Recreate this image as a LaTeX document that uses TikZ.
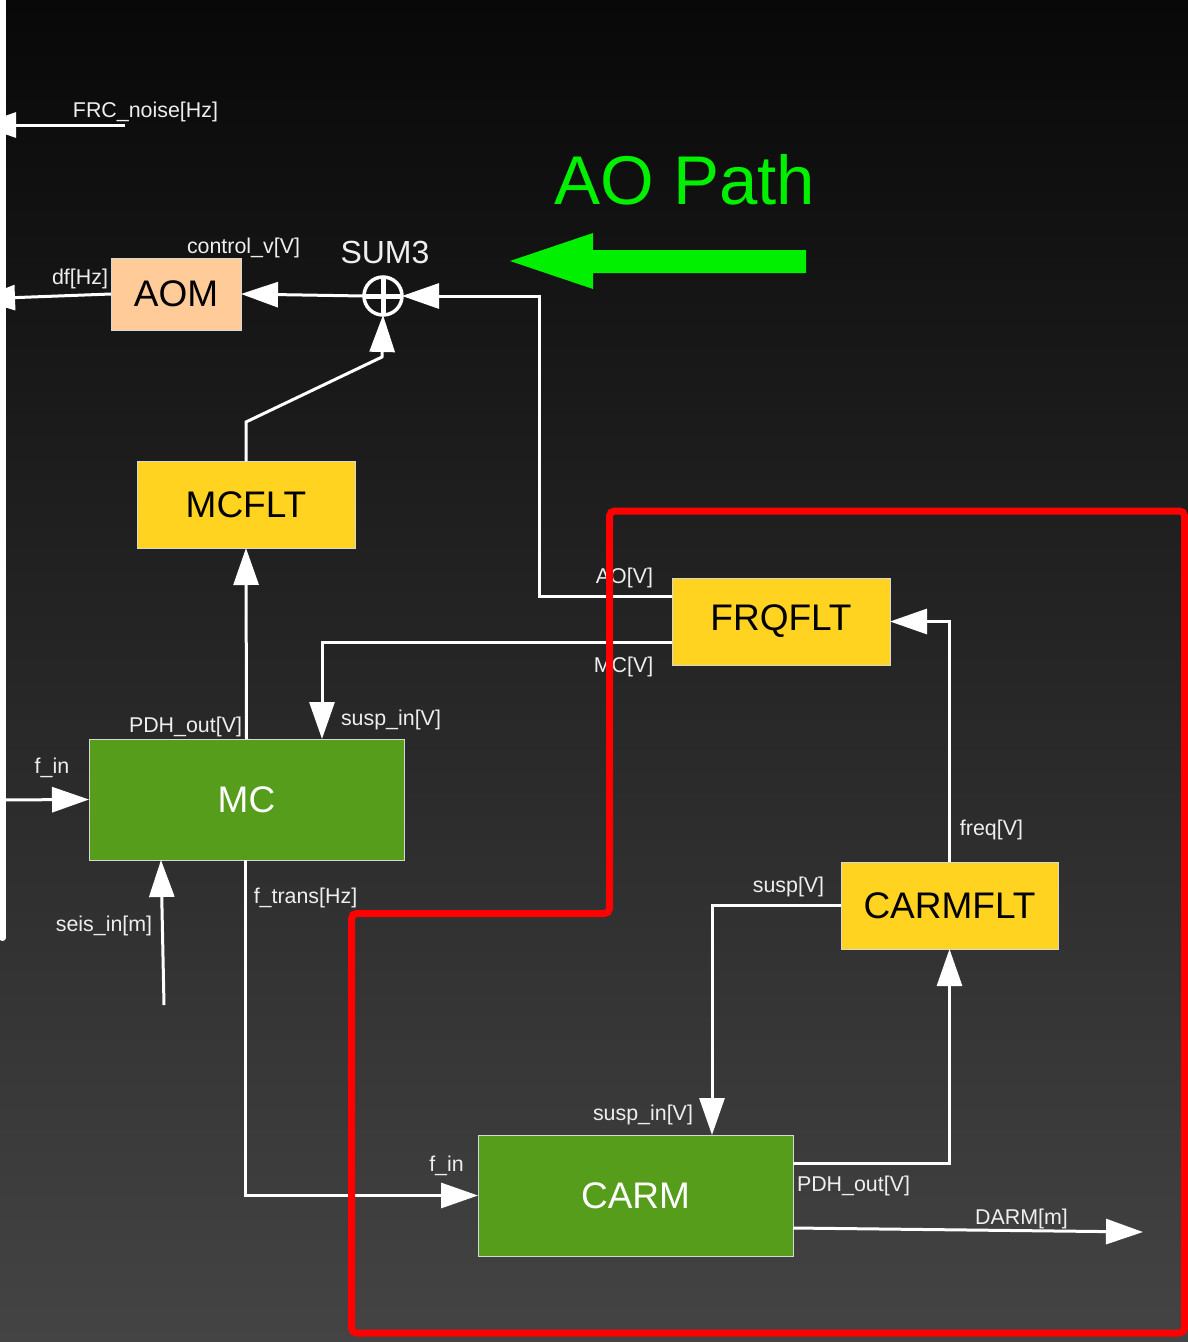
\documentclass[tikz,border=0pt]{standalone}
\usepackage{fontspec}
\setmainfont{Liberation Sans}
\usetikzlibrary{arrows.meta,calc}
\definecolor{bgtop}{RGB}{8,8,8}
\definecolor{bgbot}{RGB}{68,68,68}
\definecolor{peach}{HTML}{FFCC99}
\definecolor{filtyellow}{HTML}{FFD320}
\definecolor{plantgreen}{HTML}{579D1C}
\definecolor{pathgreen}{RGB}{0,240,0}
\definecolor{boxedge}{RGB}{215,215,215}
\definecolor{labelgray}{RGB}{238,238,238}
\begin{document}
\begin{tikzpicture}[x=1pt,y=-1pt,
  blk/.style={draw=boxedge, line width=1pt, inner sep=0pt, outer sep=0pt,
    font=\fontsize{37}{40}\selectfont},
  filt/.style={blk, fill=filtyellow, text=black, minimum width=218pt, minimum height=87pt},
  plant/.style={blk, fill=plantgreen, text=white, minimum width=315pt, minimum height=121pt},
  lbl/.style={text=labelgray, font=\fontsize{21.4}{24}\selectfont, inner sep=0pt, anchor=base},
  wire/.style={draw=white, line width=3pt},
  sig/.style={wire, -{Triangle[length=37pt,width=25pt]}},
]
% canvas with vertical gradient
\useasboundingbox (0,0) rectangle (1188,1342);
\shade[top color=bgtop, bottom color=bgbot] (0,0) rectangle (1188,1342);
\clip (0,0) rectangle (1188,1342);

% left bus bar
\draw[white, line width=6pt, line cap=round] (2.5,-10) -- (2.5,938);

% blocks
\node[blk, fill=peach, text=black, minimum width=130pt, minimum height=72pt] (AOM) at (176,294) {AOM};
\node[filt] (MCFLT) at (246,504.5) {MCFLT};
\node[filt] (FRQFLT) at (781,621.5) {FRQFLT};
\node[filt, minimum width=217pt] (CARMFLT) at (949.5,905.5) {CARMFLT};
\node[plant] (MC) at (246.5,799.5) {MC};
\node[plant] (CARM) at (635.5,1195.5) {CARM};

% summing junction
\node[circle, draw=white, line width=3.5pt, minimum size=38pt, inner sep=0pt, outer sep=0pt] (sum) at (383,296) {};
\draw[white, line width=5pt] ($(sum.west)+(2,0)$) -- ($(sum.east)+(-2,0)$);
\draw[white, line width=5pt] ($(sum.north)+(0,2)$) -- ($(sum.south)+(0,-2)$);
\node[text=labelgray, font=\fontsize{32}{34}\selectfont, inner sep=0pt, anchor=base] (sumlbl) at (385,263) {SUM3};

% free ends
\coordinate (frcS) at (125,125);
\coordinate (frcE) at (-21,125);
\coordinate (dfE) at (-22,299);
\coordinate (aoBend) at (539,296);
\coordinate (mcBendA) at (246,422);
\coordinate (mcBendB) at (382,357);
\coordinate (finMC) at (-10,800);
\coordinate (seisS) at (164,1005);
\coordinate (darmE) at (1143,1232);

% connectors
\draw[sig] (frcS) -- (frcE);
\draw[sig] (AOM.west) -- (dfE);
\draw[sig] (sum.west) -- (AOM.east);
\draw[sig] ($(FRQFLT.west)+(0,-25.5)$) -| (aoBend) -- (sum.east);
\draw[sig] (MCFLT.north) -- (mcBendA) -- (mcBendB) -- (sum.south);
\draw[sig] (MC.north) -- (MCFLT.south);
\draw[sig] ($(FRQFLT.west)+(0,20.5)$) -| ($(MC.north)+(75.5,0)$);
\draw[sig] (finMC) -- (MC.west);
\draw[sig] (seisS) -- ($(MC.south)+(-85.5,0)$);
\draw[sig] ($(MC.south)+(-1.5,0)$) |- (CARM.west);
\draw[sig] (CARMFLT.west) -| ($(CARM.north)+(76.5,0)$);
\draw[sig] ($(CARM.east)+(0,-32.5)$) -| (CARMFLT.south);
\draw[sig] (CARMFLT.north) |- (FRQFLT.east);
\draw[sig] ($(CARM.east)+(0,32.5)$) -- (darmE);

% port labels
\node[lbl] (lfrc) at (145.5,117) {FRC\_noise[Hz]};
\node[lbl] (lctl) at (243.5,253) {control\_v[V]};
\node[lbl] (ldf) at (80,284) {df[Hz]};
\node[lbl] (lao) at (624.5,583) {AO[V]};
\node[lbl] (lmcv) at (623.5,672) {MC[V]};
\node[lbl] (lsuspmc) at (391,725) {susp\_in[V]};
\node[lbl] (lpdhmc) at (185.5,732) {PDH\_out[V]};
\node[lbl] (lfinmc) at (52,773) {f\_in};
\node[lbl] (lseis) at (104,931) {seis\_in[m]};
\node[lbl] (lftrans) at (305.5,903) {f\_trans[Hz]};
\node[lbl] (lfreq) at (991.5,835) {freq[V]};
\node[lbl] (lsusp) at (788.5,892) {susp[V]};
\node[lbl] (lsuspcarm) at (643,1120) {susp\_in[V]};
\node[lbl] (lfincarm) at (446.5,1171) {f\_in};
\node[lbl] (lpdhcarm) at (853.5,1191) {PDH\_out[V]};
\node[lbl] (ldarm) at (1021.5,1224) {DARM[m]};

% AO path annotation
\node[text=pathgreen, font=\fontsize{69}{72}\selectfont, inner sep=0pt, anchor=base] (aotitle) at (685,204) {AO Path};
\fill[pathgreen] (806,250) -- (593,250) -- (593,233) -- (510,261) -- (593,289) -- (593,273) -- (806,273) -- cycle;

% outline of the common-arm region
\draw[red, line width=7pt, rounded corners=5pt]
  (609.5,511) -- (1184.5,511) -- (1184.5,1333) -- (351.5,1333) -- (351.5,913.5) -- (609.5,913.5) -- cycle;
\end{tikzpicture}
\end{document}
